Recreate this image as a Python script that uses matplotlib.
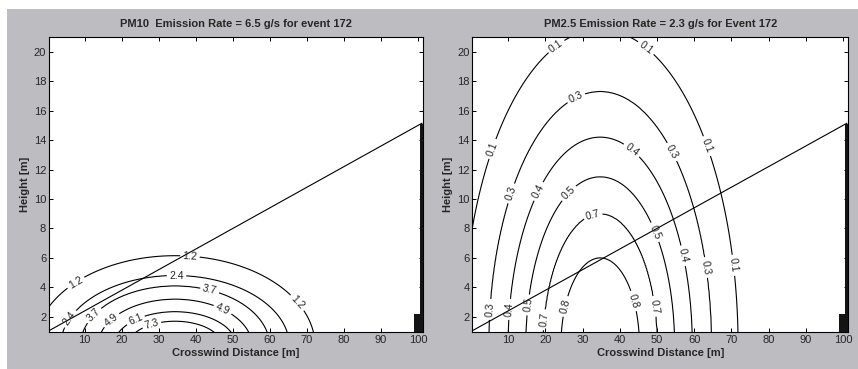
import numpy as np
import matplotlib.pyplot as plt
from matplotlib.patches import Rectangle

# contour levels: half width of each ring at y=1 and its peak height
pm10_levels = [1.2, 2.4, 3.7, 4.9, 6.1, 7.3]
pm10_halfwidth = [37.3, 30.2, 24.8, 19.8, 15.0, 10.3]
pm10_peak = [6.15, 4.8, 4.1, 3.2, 2.35, 1.7]
pm10_center = 34.4

pm25_levels = [0.1, 0.3, 0.4, 0.5, 0.7, 0.8]
pm25_halfwidth = [37.0, 29.9, 24.7, 19.9, 15.3, 10.4]
pm25_peak = [21.5, 17.3, 14.2, 11.5, 9.0, 6.0]
pm25_center = 34.75

# where the contour labels sit
pm10_label_pos = [(7.7, 4.3), (38.4, 6.0), (67.2, 2.9),
                  (34.8, 4.76), (6.4, 1.8),
                  (43.7, 3.7), (11.8, 2.3),
                  (47.4, 2.6), (17.2, 1.8),
                  (23.5, 2.0), (28.0, 1.6)]
pm25_label_pos = [(23.4, 20.2), (46.6, 20.1), (5.8, 13.4), (63.5, 13.6), (70.6, 5.5),
                  (28.6, 16.7), (10.7, 10.4), (53.1, 13.1), (62.5, 5.3), (5.3, 2.5),
                  (18.3, 10.5), (42.9, 13.2), (56.3, 6.1), (10.7, 2.5),
                  (26.3, 10.4), (49.1, 7.7), (15.6, 2.8),
                  (33.0, 8.7), (49.1, 2.7), (19.6, 1.8),
                  (25.5, 2.7), (43.4, 3.05)]

# line of sight and the tower at x=100
line_x = [0, 101]
line_y = [1.0, 15.14]
tower_left = [99.0, 100.4]
tower_width = [2.4, 1.0]
tower_height = [2.2, 15.1]

titles = ['PM10  Emission Rate = 6.5 g/s for event 172',
          'PM2.5 Emission Rate = 2.3 g/s for Event 172']

TXT = '#262626'


def plume_field(X, Y, x0, levels, halfwidth, peak):
    """Field whose contours at `levels` are nested half ellipses"""
    levels = np.asarray(levels, float)
    b = np.asarray(peak, float)
    a = np.asarray(halfwidth, float) / np.sqrt(1 - 1 / b**2)
    rho = np.sqrt(((X[None] - x0) / a[:, None, None])**2 + (Y[None] / b[:, None, None])**2)
    n = len(levels)
    k = (rho < 1).sum(axis=0)
    lo = np.clip(k - 1, 0, n - 2)
    hi = lo + 1
    r_lo = np.take_along_axis(rho, lo[None], 0)[0]
    r_hi = np.take_along_axis(rho, hi[None], 0)[0]
    return levels[lo] + (1 - r_lo) / (r_hi - r_lo) * (levels[hi] - levels[lo])


def draw_panel(ax, x0, levels, halfwidth, peak, label_pos, title):
    gx = np.linspace(-2, 104, 425)
    gy = np.linspace(0, 23, 461)
    X, Y = np.meshgrid(gx, gy)
    Z = plume_field(X, Y, x0, levels, halfwidth, peak)

    cs = ax.contour(X, Y, Z, levels=levels, colors='black', linewidths=0.8)
    ax.clabel(cs, fmt='%.1f', fontsize=7.5, inline=True, inline_spacing=2,
              manual=label_pos, colors='#222222')

    ax.plot(line_x, line_y, color='black', lw=0.8)
    ax.bar(tower_left, tower_height, width=tower_width, align='edge',
           color='#141414', edgecolor='none', zorder=3)

    ax.set_xlim(0.4, 101.4)
    ax.set_ylim(0.95, 21)
    ax.set_xticks(range(10, 101, 10))
    ax.set_yticks(range(2, 21, 2))
    ax.tick_params(direction='in', length=3, width=0.7, top=True, right=True,
                   labelsize=8, labelcolor=TXT, pad=2)
    for s in ax.spines.values():
        s.set_linewidth(0.8)
    ax.set_facecolor('white')
    ax.set_title(title, fontsize=8, fontweight='bold', color=TXT, pad=7)
    ax.set_xlabel('Crosswind Distance [m]', fontsize=8, fontweight='bold',
                  color=TXT, labelpad=2)
    ax.set_ylabel('Height [m]', fontsize=8, fontweight='bold', color=TXT, labelpad=3)


plt.rcParams['font.family'] = ['Liberation Sans', 'DejaVu Sans']

fig = plt.figure(figsize=(8.58, 3.69), dpi=100, facecolor='white')
fig.add_artist(Rectangle((7 / 858, 0), 1, 1 - 9 / 369, transform=fig.transFigure,
                         facecolor='#bdbdc1', edgecolor='none', zorder=-5))

ax1 = fig.add_axes([0.0571, 0.0995, 0.4363, 0.8003])
ax2 = fig.add_axes([0.5505, 0.0995, 0.4382, 0.8003])

draw_panel(ax1, pm10_center, pm10_levels, pm10_halfwidth, pm10_peak,
           pm10_label_pos, titles[0])
draw_panel(ax2, pm25_center, pm25_levels, pm25_halfwidth, pm25_peak,
           pm25_label_pos, titles[1])

plt.savefig('out.png', dpi=100, facecolor=fig.get_facecolor())
plt.close()
